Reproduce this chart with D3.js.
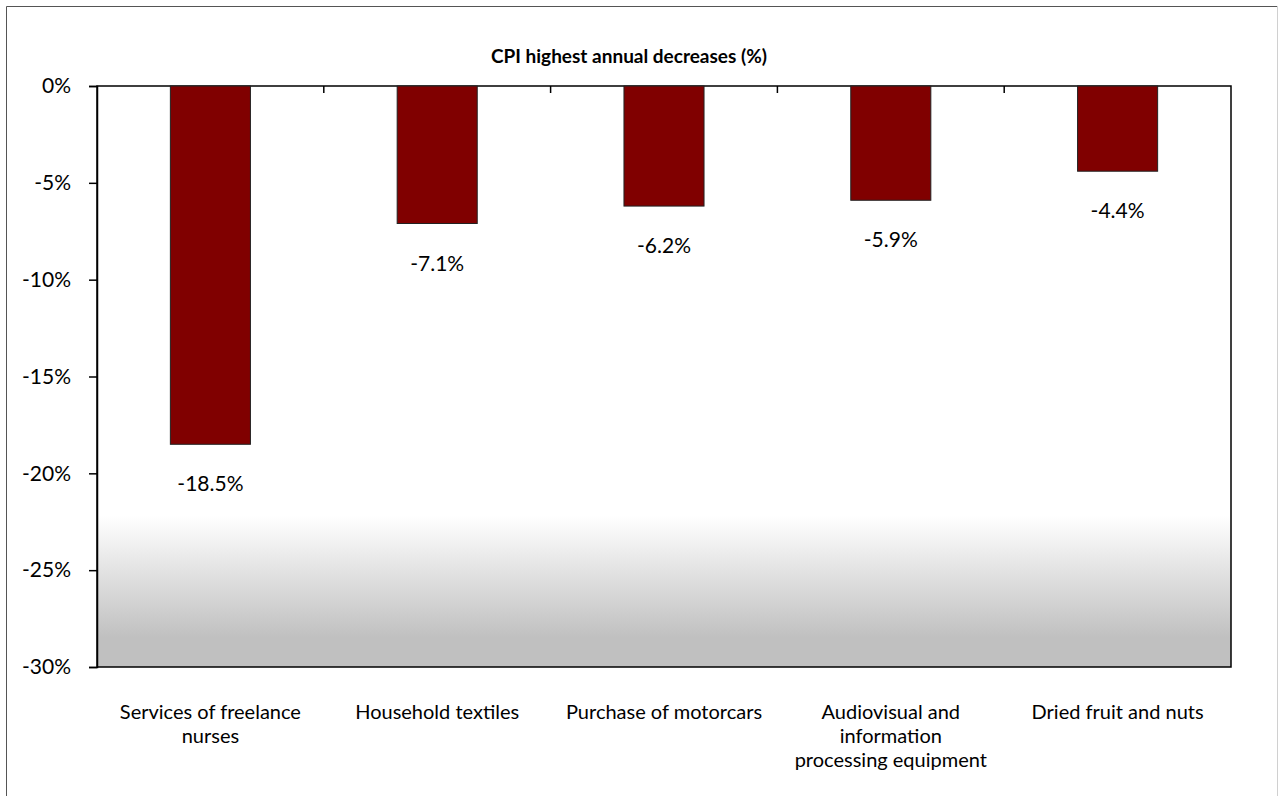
<!DOCTYPE html>
<html>
<head>
    <meta charset="utf-8">
    <script src="https://d3js.org/d3.v7.min.js"></script>
    <style>
        body { margin: 0; background: #fff; }
        text { font-family: Lato, "Open Sans", sans-serif; fill: #000; }
    </style>
</head>
<body>
    <div id="chart"></div>
<script>
    // data
    var categories = [
        ["Services of freelance", "nurses"],
        ["Household textiles"],
        ["Purchase of motorcars"],
        ["Audiovisual and", "information", "processing equipment"],
        ["Dried fruit and nuts"]
    ];
    var values = [-18.5, -7.1, -6.2, -5.9, -4.4];
    var yTicks = [0, -5, -10, -15, -20, -25, -30];
    var title = "CPI highest annual decreases (%)";

    var W = 1279, H = 796;
    var margin = { top: 86, right: 48, bottom: 129, left: 97 },
        width = W - margin.left - margin.right,
        height = H - margin.top - margin.bottom;

    var root = d3.select("#chart").append("svg")
        .attr("width", W)
        .attr("height", H);

    // outer chart border
    root.append("path")
        .attr("d", "M6.5,800 V6.5 H1277.5 V800")
        .attr("fill", "none")
        .attr("stroke", "#555")
        .attr("stroke-width", 1);
    root.append("line")
        .attr("x1", 1277.5).attr("x2", 1277.5)
        .attr("y1", 6).attr("y2", 800)
        .attr("stroke", "#d0d0d0");

    // gradient for the plot area
    var defs = root.append("defs");
    var grad = defs.append("linearGradient")
        .attr("id", "bg")
        .attr("x1", 0).attr("x2", 0).attr("y1", 0).attr("y2", 1);
    grad.append("stop").attr("offset", "0.74").attr("stop-color", "#ffffff");
    grad.append("stop").attr("offset", "0.95").attr("stop-color", "#c0c0c0");
    grad.append("stop").attr("offset", "1").attr("stop-color", "#c0c0c0");

    var svg = root.append("g")
        .attr("transform", "translate(" + margin.left + "," + margin.top + ")");

    var x = d3.scaleBand()
        .domain(d3.range(categories.length))
        .range([0, width])
        .paddingInner(0.647)
        .paddingOuter(0.3235);

    var xb = d3.scaleLinear().domain([0, categories.length]).range([0, width]);

    var y = d3.scaleLinear()
        .domain([0, -30])
        .range([0, height]);

    // plot area
    svg.append("rect")
        .attr("width", width)
        .attr("height", height)
        .attr("fill", "url(#bg)")
        .attr("stroke", "#000")
        .attr("stroke-width", 1.5);

    // y axis
    var yAxis = svg.append("g")
        .call(d3.axisLeft(y).tickValues(yTicks).tickSize(8).tickPadding(18)
            .tickFormat(function (d) { return d + "%"; }));
    yAxis.select(".domain").attr("stroke-width", 1.5);
    yAxis.selectAll(".tick line").attr("stroke-width", 1.5);
    yAxis.selectAll("text").style("font-size", "21px");

    // category tick marks on the zero line
    svg.selectAll(".cat-tick")
        .data(d3.range(1, categories.length))
        .enter().append("line")
        .attr("x1", function (d) { return xb(d); })
        .attr("x2", function (d) { return xb(d); })
        .attr("y1", y(0))
        .attr("y2", y(0) + 7)
        .attr("stroke", "#000")
        .attr("stroke-width", 1.5);

    // bars
    svg.selectAll(".bar")
        .data(values)
        .enter().append("rect")
        .attr("x", function (d, i) { return x(i); })
        .attr("y", y(0))
        .attr("width", x.bandwidth())
        .attr("height", function (d) { return y(d) - y(0); })
        .attr("fill", "#800000")
        .attr("stroke", "#222")
        .attr("stroke-width", 1);

    // value labels
    svg.selectAll(".val")
        .data(values)
        .enter().append("text")
        .attr("x", function (d, i) { return x(i) + x.bandwidth() / 2; })
        .attr("y", function (d) { return y(d) + 47; })
        .attr("text-anchor", "middle")
        .style("font-size", "21px")
        .text(function (d) { return d.toFixed(1) + "%"; });

    // category labels
    var cl = svg.selectAll(".cat")
        .data(categories)
        .enter().append("text")
        .attr("text-anchor", "middle")
        .attr("x", function (d, i) { return x(i) + x.bandwidth() / 2; })
        .attr("y", height + 52)
        .style("font-size", "20px");
    cl.selectAll("tspan")
        .data(function (d) { return d; })
        .enter().append("tspan")
        .attr("x", function () { return d3.select(this.parentNode).attr("x"); })
        .attr("dy", function (d, i) { return i === 0 ? 0 : 24; })
        .text(function (d) { return d; });

    // title
    root.append("text")
        .attr("x", 629)
        .attr("y", 63)
        .attr("text-anchor", "middle")
        .style("font-size", "19px")
        .style("font-weight", "bold")
        .text(title);
</script>
</body>
</html>
